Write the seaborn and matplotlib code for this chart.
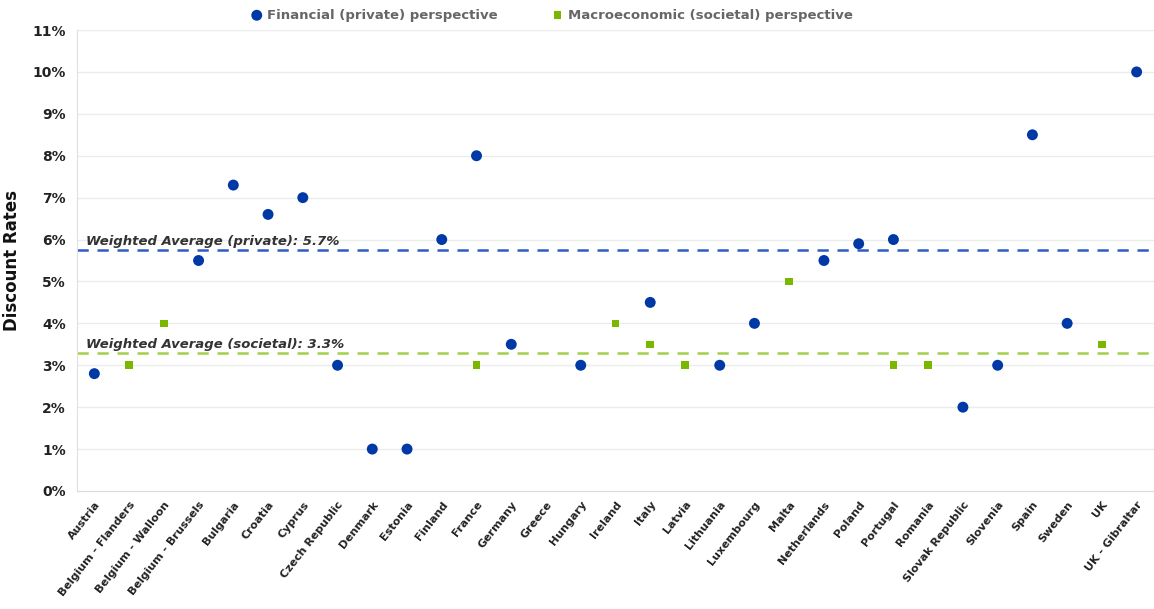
import numpy as np
import pandas as pd
import matplotlib
matplotlib.use("Agg")
import matplotlib.pyplot as plt
import seaborn as sns

# Страны / регионы
countries = ["Austria", "Belgium - Flanders", "Belgium - Walloon", "Belgium - Brussels",
             "Bulgaria", "Croatia", "Cyprus", "Czech Republic", "Denmark", "Estonia",
             "Finland", "France", "Germany", "Greece", "Hungary", "Ireland", "Italy",
             "Latvia", "Lithuania", "Luxembourg", "Malta", "Netherlands", "Poland",
             "Portugal", "Romania", "Slovak Republic", "Slovenia", "Spain", "Sweden",
             "UK", "UK - Gibraltar"]

nan = np.nan
# Финансовая (частная) перспектива, %
private_rates = [2.8, nan, nan, 5.5, 7.3, 6.6, 7.0, 3.0, 1.0, 1.0,
                 6.0, 8.0, 3.5, nan, 3.0, nan, 4.5, nan, 3.0, 4.0,
                 nan, 5.5, 5.9, 6.0, nan, 2.0, 3.0, 8.5, 4.0, nan, 10.0]
# Макроэкономическая (общественная) перспектива, %
societal_rates = [nan, 3.0, 4.0, nan, nan, nan, nan, nan, nan, nan,
                  nan, 3.0, nan, nan, nan, 4.0, 3.5, 3.0, nan, nan,
                  5.0, nan, nan, 3.0, 3.0, nan, nan, nan, nan, 3.5, nan]

avg_private = 5.75
avg_societal = 3.3
avg_private_label = "Weighted Average (private): 5.7%"
avg_societal_label = "Weighted Average (societal): 3.3%"
yticks = list(range(0, 12))

BLUE = "#0039a6"
GREEN = "#7ab800"

df = pd.DataFrame({"pos": np.arange(len(countries)), "country": countries,
                   "private": private_rates, "societal": societal_rates})

sns.set_style("white")
plt.rcParams['font.family'] = ['DejaVu Sans']

fig = plt.figure(figsize=(11.54, 6.09), dpi=100)
ax = fig.add_axes([0.0667, 0.1938, 0.9333, 0.7569])

ax.set_axisbelow(True)
for y in yticks[1:]:
    ax.axhline(y, color="#ececec", lw=1, zorder=0)

sns.scatterplot(data=df, x="pos", y="private", ax=ax, color=BLUE, marker="o",
                s=62, edgecolor="none", zorder=3,
                label="Financial (private) perspective")
sns.scatterplot(data=df, x="pos", y="societal", ax=ax, color=GREEN, marker="s",
                s=30, edgecolor="none", zorder=3,
                label="Macroeconomic (societal) perspective")

ax.axhline(avg_private, color="#2e5cc4", lw=1.8, ls=(0, (4.5, 3.5)), zorder=2)
ax.axhline(avg_societal, color="#a3d04a", lw=1.8, ls=(0, (4.5, 3.5)), zorder=2)
ax.text(-0.25, avg_private + 0.05, avg_private_label, fontsize=9.5, fontweight="bold",
        fontstyle="italic", color="#333333", va="bottom", ha="left")
ax.text(-0.25, avg_societal + 0.05, avg_societal_label, fontsize=9.5, fontweight="bold",
        fontstyle="italic", color="#333333", va="bottom", ha="left")

ax.set_xlim(-0.5, 30.27)
ax.set_ylim(0, 11)
ax.set_yticks(yticks)
ax.set_yticklabels([f"{v}%" for v in yticks], fontsize=10, fontweight="bold", color="#222222")
ax.set_xticks(df["pos"])
ax.set_xticklabels(countries, rotation=52, ha="right", rotation_mode="anchor",
                   fontsize=8, fontweight="bold", color="#222222")
ax.set_xticks(np.arange(-0.5, 31, 1), minor=True)
ax.tick_params(axis="x", which="major", length=0, pad=6)
ax.tick_params(axis="x", which="minor", length=4, color="#d9d9d9", width=1)
ax.tick_params(axis="y", length=0, pad=8)

ax.set_xlabel("")
ax.set_ylabel("Discount Rates", fontsize=12, fontweight="bold", color="#111111", labelpad=8)

for side in ["top", "right"]:
    ax.spines[side].set_visible(False)
ax.spines["left"].set_color("#e0e0e0")
ax.spines["bottom"].set_color("#d9d9d9")

handles, labels = ax.get_legend_handles_labels()
ax.legend_.remove()
fig.legend(handles, labels, loc="center", bbox_to_anchor=(0.475, 0.975), ncol=2,
           frameon=False, handletextpad=-0.2, columnspacing=3.5,
           markerscale=1.0, labelcolor="#666666", prop={"weight": "bold", "size": 9.5})

fig.savefig("out.png", dpi=100)
